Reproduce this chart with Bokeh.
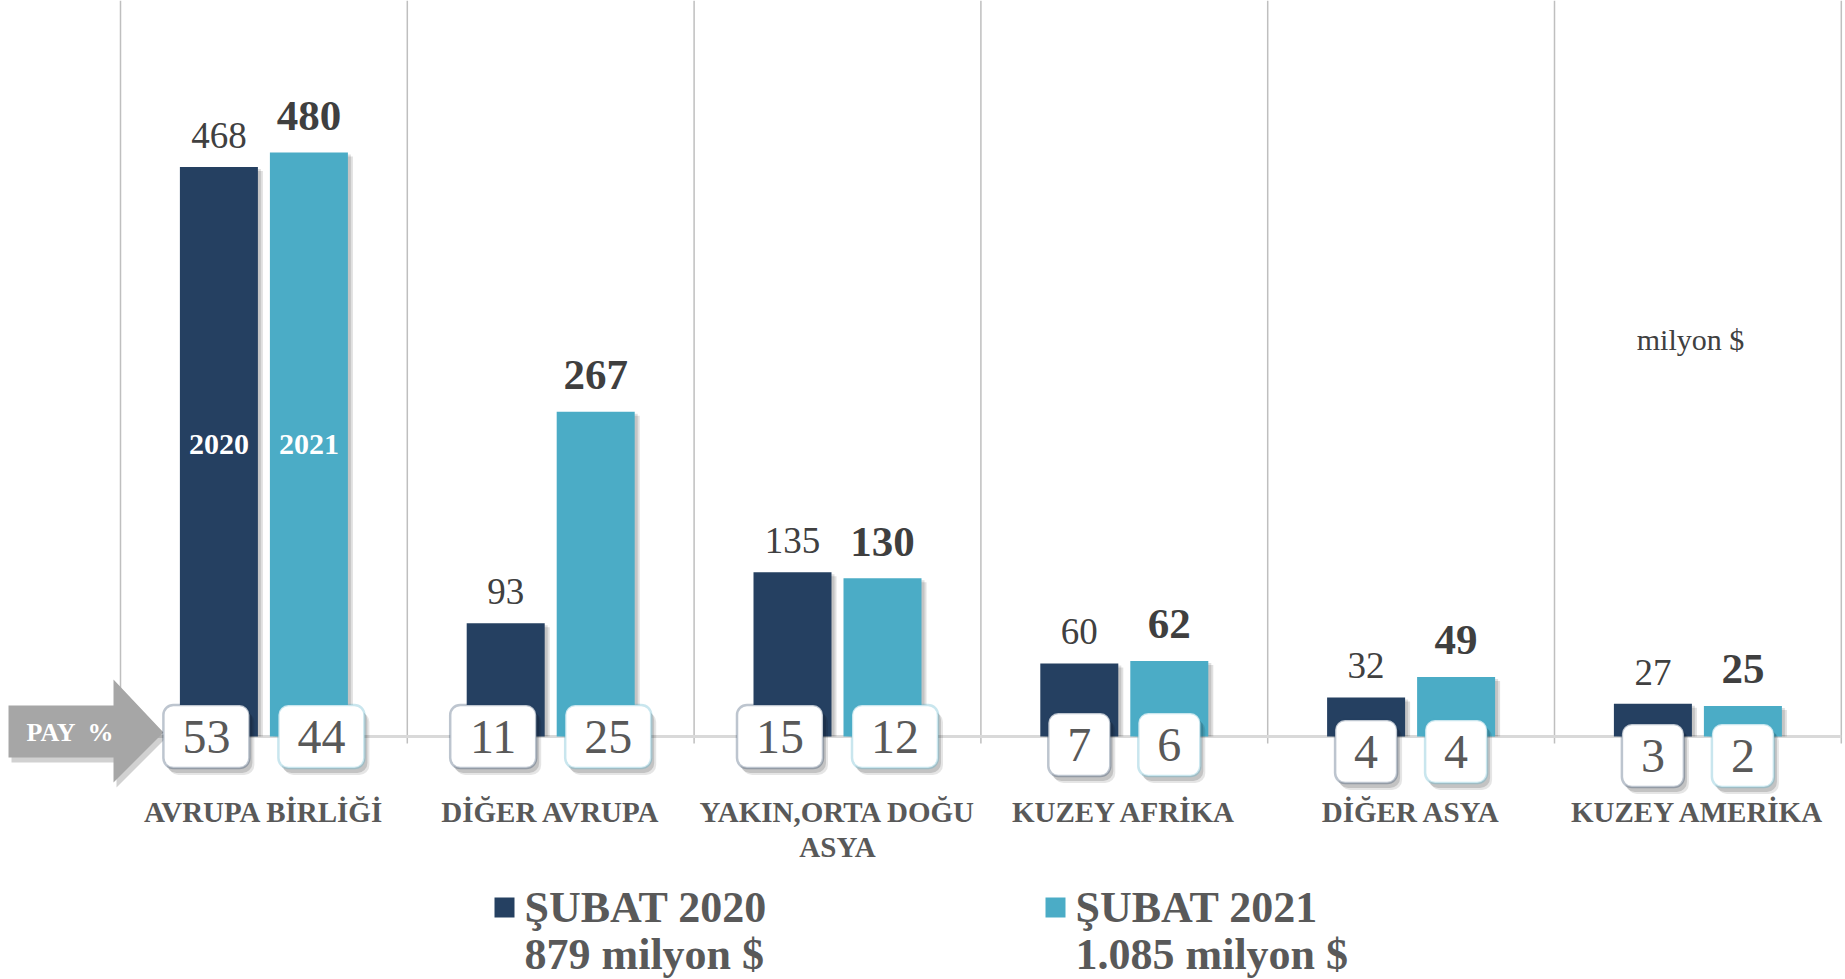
from bokeh.plotting import figure
from bokeh.models import BoxAnnotation, Label, Range1d
from bokeh.core.properties import value
from bokeh.embed import file_html
from bokeh.resources import INLINE

# ---------------- data ----------------
categories = ["AVRUPA BİRLİĞİ", "DİĞER AVRUPA", "YAKIN,ORTA DOĞU\nASYA",
              "KUZEY AFRİKA", "DİĞER ASYA", "KUZEY AMERİKA"]
values_2020 = [468, 93, 135, 60, 32, 27]
values_2021 = [480, 267, 130, 62, 49, 25]
share_2020 = [53, 11, 15, 7, 4, 3]
share_2021 = [44, 25, 12, 6, 4, 2]
series_years = ["2020", "2021"]
series_names = ["ŞUBAT 2020", "ŞUBAT 2021"]
series_totals = ["879 milyon $", "1.085 milyon $"]
unit_label = "milyon $"
share_label = "PAY \u00a0%"

# ---------------- layout / style ----------------
DARK = "#254061"
LIGHT = "#4BACC6"
SERIF = "Liberation Serif"
W, H = 1844, 978
CAT_PX = 286.8          # px per category
Y_PX = 1.2167           # px per unit (million $)
BASE_PAGE_Y = 736       # page y of value 0
FIRST_GRID_PAGE_X = 120
share_box_drop = [0, 0, 0, 8, 15, 19]   # px the share boxes sit below the baseline
MID = 0.34              # digit/cap centre above baseline, in em


def dx(px):
    return px / CAT_PX


def dy(px):
    return px / Y_PX


x_start = -dx(FIRST_GRID_PAGE_X)
y_top = dy(BASE_PAGE_Y)
y_bot = -dy(H - BASE_PAGE_Y)


def X(page_x):
    return x_start + dx(page_x)


def Y(page_y):
    return dy(BASE_PAGE_Y - page_y)


p = figure(width=W, height=H, output_backend="svg", toolbar_location=None, tools="",
           x_range=Range1d(x_start, x_start + dx(W)), y_range=Range1d(y_bot, y_top),
           x_axis_location=None, y_axis_location=None, min_border=0,
           outline_line_color=None, background_fill_color="white")
p.xgrid.visible = False
p.ygrid.visible = False

n = len(categories)
centers = [i + 0.5 for i in range(n)]

# vertical separators (with tick stubs below baseline)
p.segment(x0=list(range(n + 1)), y0=[-dy(7)] * (n + 1),
          x1=list(range(n + 1)), y1=[y_top] * (n + 1),
          line_color="#BFBFBF", line_width=1.5)
# baseline
p.segment(x0=[0], y0=[0], x1=[n], y1=[0], line_color="#D9D9D9", line_width=3)

BAR_OFF = dx(45)
BAR_W = dx(78)
x20 = [c - BAR_OFF for c in centers]
x21 = [c + BAR_OFF for c in centers]

# bar shadows
for xs, vals in ((x20, values_2020), (x21, values_2021)):
    p.vbar(x=[x + dx(5) for x in xs], top=[v - dy(4) for v in vals], bottom=0,
           width=BAR_W, fill_color="#000000", fill_alpha=0.12, line_color=None)
    p.vbar(x=[x + dx(3) for x in xs], top=[v - dy(2) for v in vals], bottom=0,
           width=BAR_W, fill_color="#000000", fill_alpha=0.12, line_color=None)

p.vbar(x=x20, top=values_2020, bottom=0, width=BAR_W, fill_color=DARK, line_color=None)
p.vbar(x=x21, top=values_2021, bottom=0, width=BAR_W, fill_color=LIGHT, line_color=None)

# value labels
FS20, FS21 = 37, 43
p.text(x=x20, y=[v + dy(19 + MID * FS20) for v in values_2020], text=[str(v) for v in values_2020],
       text_align="center", text_baseline="middle", text_font=value(SERIF),
       text_font_size=f"{FS20}px", text_color="#404040")
p.text(x=x21, y=[v + dy(22 + MID * FS21) for v in values_2021], text=[str(v) for v in values_2021],
       text_align="center", text_baseline="middle", text_font=value(SERIF),
       text_font_size=f"{FS21}px", text_font_style="bold", text_color="#3F3F3F")

# year labels inside the first pair of bars
mid = max(values_2020[0], values_2021[0]) / 2
p.text(x=[x20[0], x21[0]], y=[mid, mid], text=series_years,
       text_align="center", text_baseline="middle", text_font=value(SERIF),
       text_font_size="30px", text_font_style="bold", text_color="white")

# category labels
p.text(x=centers, y=[Y(795)] * n, text=categories, text_align="center",
       text_baseline="top", text_font=value(SERIF), text_font_size="29px",
       text_font_style="bold", text_color="#595959", text_line_height=1.1)

# PAY % arrow
arrow_x = [X(8), X(113), X(113), X(163), X(113), X(113), X(8)]
arrow_y = [Y(705), Y(705), Y(679), Y(732), Y(782), Y(757), Y(757)]
p.patch(x=[v + dx(3) for v in arrow_x], y=[v - dy(5) for v in arrow_y],
        fill_color="#000000", fill_alpha=0.18, line_color=None)
p.patch(x=arrow_x, y=arrow_y, fill_color="#A6A6A6", line_color=None)
p.text(x=[X(70)], y=[Y(732)], text=[share_label], text_align="center",
       text_baseline="middle", text_font=value(SERIF), text_font_size="26px",
       text_font_style="bold", text_color="white")

# share boxes
for i in range(n):
    for sign, shares, col in ((-1, share_2020, DARK), (1, share_2021, LIGHT)):
        s = str(shares[i])
        w_px = 38 + 24 * len(s)
        h_px = 63
        off = 45 if len(s) == 1 else 57.5
        cx = centers[i] + sign * dx(off)
        cy = -dy(share_box_drop[i])
        for sx, sy, a in ((5, 7, 0.10), (3, 5, 0.15)):
            p.add_layout(BoxAnnotation(left=cx - dx(w_px / 2) + dx(sx), right=cx + dx(w_px / 2) + dx(sx),
                                       bottom=cy - dy(h_px / 2) - dy(sy), top=cy + dy(h_px / 2) - dy(sy),
                                       fill_color="#000000", fill_alpha=a, line_color=None,
                                       border_radius=10))
        p.add_layout(BoxAnnotation(left=cx - dx(w_px / 2), right=cx + dx(w_px / 2),
                                   bottom=cy - dy(h_px / 2), top=cy + dy(h_px / 2),
                                   fill_color="white", fill_alpha=1.0, line_color=col,
                                   line_width=2.5, border_radius=10))
        p.add_layout(Label(x=cx, y=cy, text=s, text_align="center", text_baseline="middle",
                           text_font=SERIF, text_font_size="48px", text_color="#595959"))

# unit note
p.text(x=[X(1690)], y=[Y(339)], text=[unit_label], text_align="center",
       text_baseline="middle", text_font=value(SERIF), text_font_size="30px",
       text_color="#404040")

# legend
FSL = 44
leg_page_x = [494, 1045]
for k, col in enumerate((DARK, LIGHT)):
    lx = leg_page_x[k]
    p.add_layout(BoxAnnotation(left=X(lx), right=X(lx + 20), bottom=Y(917), top=Y(897),
                               fill_color=col, fill_alpha=1.0, line_color=None))
    p.text(x=[X(lx + 30), X(lx + 30)], y=[Y(907), Y(954)],
           text=[series_names[k], series_totals[k]], text_align="left",
           text_baseline="middle", text_font=value(SERIF), text_font_size=f"{FSL}px",
           text_font_style="bold", text_color="#595959")

open("out.html", "w").write(file_html(p, INLINE))
